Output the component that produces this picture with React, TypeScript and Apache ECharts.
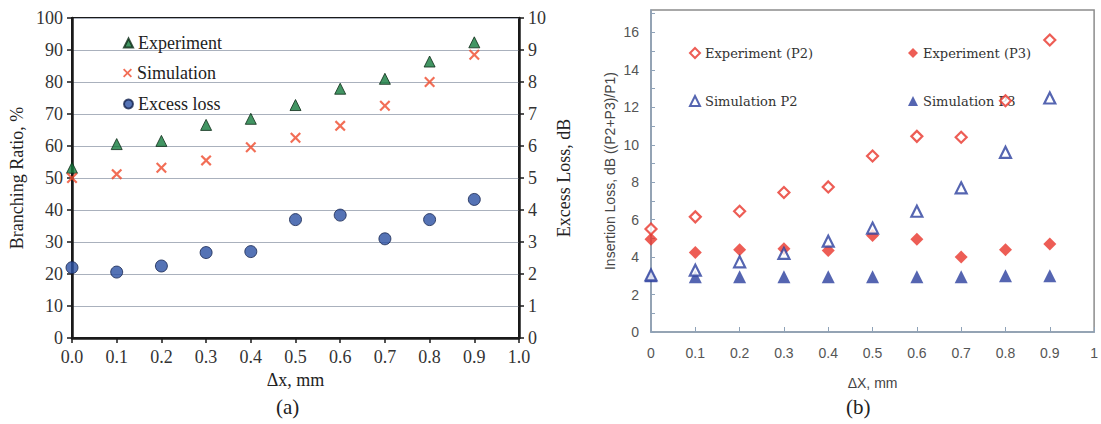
import React, { useEffect, useRef } from 'react';
import * as echarts from 'echarts';

// ---- Chart (a) data ----
const xValuesA = [0, 0.1, 0.2, 0.3, 0.4, 0.5, 0.6, 0.7, 0.8, 0.9];
const experimentA = [53.2, 60.6, 61.6, 66.6, 68.5, 72.8, 77.9, 81.0, 86.4, 92.4];
const simulationA = [50.0, 51.2, 53.2, 55.5, 59.6, 62.6, 66.3, 72.6, 80.0, 88.5];
const excessLossA = [2.2, 2.06, 2.25, 2.67, 2.7, 3.7, 3.84, 3.1, 3.7, 4.33];

// ---- Chart (b) data ----
const xValuesB = [0, 0.1, 0.2, 0.3, 0.4, 0.5, 0.6, 0.7, 0.8, 0.9];
const experimentP2 = [5.5, 6.15, 6.45, 7.45, 7.75, 9.4, 10.45, 10.4, 12.35, 15.6];
const experimentP3 = [4.95, 4.25, 4.4, 4.45, 4.35, 5.15, 4.95, 4.0, 4.4, 4.7];
const simulationP2 = [3.05, 3.3, 3.75, 4.2, 4.85, 5.55, 6.45, 7.7, 9.6, 12.5];
const simulationP3 = [3.0, 2.95, 2.95, 2.95, 2.95, 2.95, 2.95, 2.95, 3.0, 3.0];

const pairs = (xs: number[], ys: number[]) => xs.map((x, i) => [x, ys[i]]);

const X_SYMBOL =
  'path://M1.4,0 L5,3.6 L8.6,0 L10,1.4 L6.4,5 L10,8.6 L8.6,10 L5,6.4 L1.4,10 L0,8.6 L3.6,5 L0,1.4 Z';

const SERIF = 'Liberation Serif';
const SANS = 'Liberation Sans';
const RED_B = '#e8342b';
const BLUE_B = '#2b3f9e';
const AXIS_B = '#8ea2b8';

export default function App() {
  const ref = useRef<HTMLDivElement>(null);

  useEffect(() => {
    document.body.style.margin = '0';
    if (!ref.current) return;
    const chart = echarts.init(ref.current, undefined, { renderer: 'svg' });

    const legendA = (name: string, top: number) => ({
      data: [name],
      left: 118,
      top,
      orient: 'vertical',
      itemWidth: 9,
      itemHeight: 9,
      itemGap: 5,
      textStyle: { fontFamily: SERIF, fontSize: 18, color: '#222', lineHeight: 18 },
    });
    const legendB = (name: string, left: number, top: number) => ({
      data: [name],
      left,
      top,
      itemWidth: 10,
      itemHeight: 10,
      textStyle: { fontFamily: 'DejaVu Serif', fontSize: 13, color: '#333', lineHeight: 16 },
    });

    const option: any = {
      animation: false,
      backgroundColor: '#ffffff',
      legend: [
        legendA('Experiment', 29),
        legendA('Simulation', 59),
        legendA('Excess loss', 90),
        legendB('Experiment (P2)', 684, 40),
        legendB('Experiment (P3)', 903, 40),
        legendB('Simulation P2', 684, 88),
        legendB('Simulation P3', 903, 88),
      ],
      grid: [
        { left: 72, top: 18, width: 447, height: 320, show: true, borderColor: '#1a1a1a', borderWidth: 2, backgroundColor: 'transparent' },
        { left: 651, top: 10, width: 447, height: 322, show: true, borderColor: '#8c8c8c', borderWidth: 1.5, backgroundColor: 'transparent' },
      ],
      xAxis: [
        {
          gridIndex: 0,
          type: 'value',
          min: 0,
          max: 1,
          interval: 0.1,
          name: 'Δx, mm',
          nameLocation: 'middle',
          nameGap: 33,
          nameTextStyle: { fontFamily: SERIF, fontSize: 18, color: '#222' },
          axisLine: { lineStyle: { color: '#1a1a1a', width: 2.5 } },
          axisTick: { show: true, inside: false, length: 5, lineStyle: { color: '#1a1a1a', width: 1.5 } },
          axisLabel: { margin: 10, fontFamily: SERIF, fontSize: 18, color: '#333', formatter: (v: number) => v.toFixed(1) },
          splitLine: { show: false },
        },
        {
          gridIndex: 1,
          type: 'value',
          min: 0,
          max: 1,
          interval: 0.1,
          name: 'ΔX, mm',
          nameLocation: 'middle',
          nameGap: 44,
          nameTextStyle: { fontFamily: SANS, fontSize: 14, color: '#444' },
          axisLine: { lineStyle: { color: AXIS_B, width: 1.5 } },
          axisTick: { show: true, inside: true, length: 5, lineStyle: { color: AXIS_B, width: 1 } },
          axisLabel: {
            margin: 14,
            fontFamily: SANS,
            fontSize: 14,
            color: '#555',
            formatter: (v: number) => String(Math.round(v * 10) / 10),
          },
          splitLine: { show: false },
        },
      ],
      yAxis: [
        {
          gridIndex: 0,
          type: 'value',
          position: 'left',
          min: 0,
          max: 100,
          interval: 10,
          name: 'Branching Ratio, %',
          nameLocation: 'middle',
          nameRotate: 90,
          nameGap: 46,
          nameTextStyle: { fontFamily: SERIF, fontSize: 18, color: '#222' },
          axisLine: { show: true, lineStyle: { color: '#1a1a1a', width: 2.5 } },
          axisTick: { show: true, inside: false, length: 5, lineStyle: { color: '#1a1a1a', width: 1.5 } },
          axisLabel: { margin: 9, fontFamily: SERIF, fontSize: 18, color: '#333' },
          splitLine: { show: true, lineStyle: { color: '#aab1bd', width: 1.2 } },
        },
        {
          gridIndex: 0,
          type: 'value',
          position: 'right',
          min: 0,
          max: 10,
          interval: 1,
          name: 'Excess Loss, dB',
          nameLocation: 'middle',
          nameRotate: 90,
          nameGap: 36,
          nameTextStyle: { fontFamily: SERIF, fontSize: 18, color: '#222' },
          axisLine: { show: true, lineStyle: { color: '#1a1a1a', width: 2.5 } },
          axisTick: { show: true, inside: false, length: 5, lineStyle: { color: '#1a1a1a', width: 1.5 } },
          axisLabel: { margin: 9, fontFamily: SERIF, fontSize: 18, color: '#333' },
          splitLine: { show: false },
        },
        {
          gridIndex: 1,
          type: 'value',
          min: 0,
          max: 17.2,
          interval: 1,
          name: 'Insertion Loss, dB ((P2+P3)/P1)',
          nameLocation: 'middle',
          nameRotate: 90,
          nameGap: 34,
          nameTextStyle: { fontFamily: SANS, fontSize: 14, color: '#444' },
          axisLine: { show: true, lineStyle: { color: AXIS_B, width: 1.5 } },
          axisTick: { show: true, inside: true, length: 4, lineStyle: { color: AXIS_B, width: 1 } },
          axisLabel: {
            margin: 12,
            fontFamily: SANS,
            fontSize: 14,
            color: '#555',
            showMaxLabel: false,
            formatter: (v: number) => (Math.abs(v % 2) < 1e-6 && v <= 16 ? String(v) : ''),
          },
          splitLine: { show: false },
        },
      ],
      series: [
        {
          name: 'Experiment',
          type: 'scatter',
          xAxisIndex: 0,
          yAxisIndex: 0,
          symbol: 'triangle',
          symbolSize: 11,
          itemStyle: { color: '#137a3c', borderColor: '#0c2a16', borderWidth: 1 },
          data: pairs(xValuesA, experimentA),
          z: 3,
        },
        {
          name: 'Simulation',
          type: 'scatter',
          xAxisIndex: 0,
          yAxisIndex: 0,
          symbol: X_SYMBOL,
          symbolSize: 11,
          itemStyle: { color: '#ef4a2c' },
          data: pairs(xValuesA, simulationA),
          z: 4,
        },
        {
          name: 'Excess loss',
          type: 'scatter',
          xAxisIndex: 0,
          yAxisIndex: 1,
          symbol: 'circle',
          symbolSize: 12,
          itemStyle: { color: '#2a50a3', borderColor: '#15244f', borderWidth: 1 },
          data: pairs(xValuesA, excessLossA),
          z: 3,
        },
        {
          name: 'Experiment (P2)',
          type: 'scatter',
          xAxisIndex: 1,
          yAxisIndex: 2,
          symbol: 'diamond',
          symbolSize: 11,
          itemStyle: { color: '#ffffff', borderColor: RED_B, borderWidth: 2.2 },
          data: pairs(xValuesB, experimentP2),
          z: 4,
        },
        {
          name: 'Experiment (P3)',
          type: 'scatter',
          xAxisIndex: 1,
          yAxisIndex: 2,
          symbol: 'diamond',
          symbolSize: 13,
          itemStyle: { color: RED_B },
          data: pairs(xValuesB, experimentP3),
          z: 3,
        },
        {
          name: 'Simulation P2',
          type: 'scatter',
          xAxisIndex: 1,
          yAxisIndex: 2,
          symbol: 'triangle',
          symbolSize: 11,
          itemStyle: { color: '#ffffff', borderColor: BLUE_B, borderWidth: 2.2 },
          data: pairs(xValuesB, simulationP2),
          z: 3,
        },
        {
          name: 'Simulation P3',
          type: 'scatter',
          xAxisIndex: 1,
          yAxisIndex: 2,
          symbol: 'triangle',
          symbolSize: 13,
          itemStyle: { color: BLUE_B },
          data: pairs(xValuesB, simulationP3),
          z: 2,
        },
      ],
      graphic: [
        {
          type: 'text',
          left: 276,
          top: 396,
          style: { text: '(a)', fontFamily: SERIF, fontSize: 21, fill: '#222' },
        },
        {
          type: 'text',
          left: 846,
          top: 396,
          style: { text: '(b)', fontFamily: SERIF, fontSize: 21, fill: '#222' },
        },
      ],
    };

    chart.setOption(option);
    return () => chart.dispose();
  }, []);

  return <div ref={ref} style={{ width: 1101, height: 424 }} />;
}
